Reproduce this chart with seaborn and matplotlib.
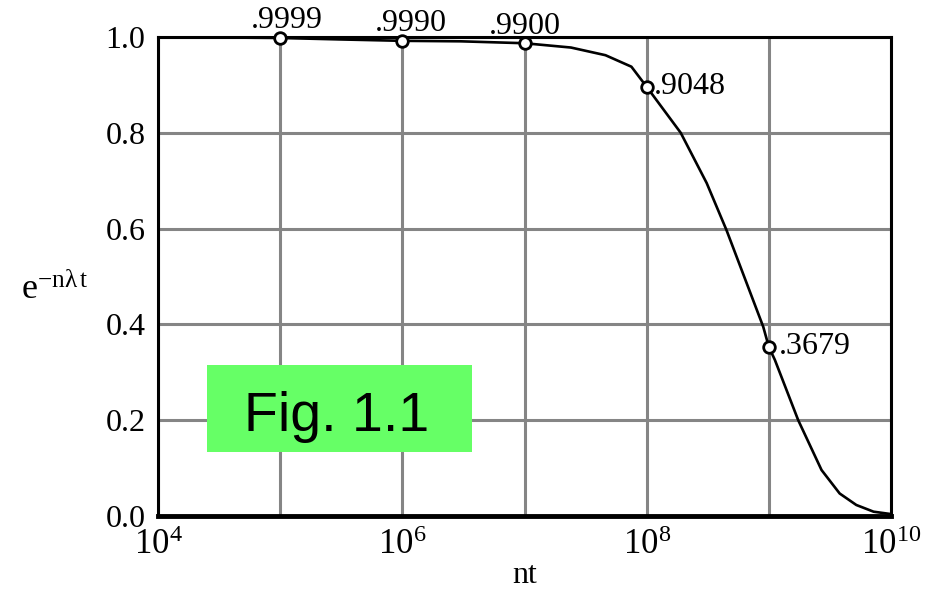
import seaborn as sns
import pandas as pd
import matplotlib.pyplot as plt
from matplotlib.patches import Rectangle

# curve
nt = [1e4, 1e5, 3e5, 1e6, 3e6, 1e7, 2.4e7, 4.6e7, 7.5e7, 1e8, 1.9e8, 3.1e8, 4.5e8,
      9e8, 1e9, 1.12e9, 1.74e9, 2.7e9, 3.8e9, 5.2e9, 7.2e9, 1e10]
reliab = [1.0, 0.998, 0.995, 0.992, 0.991, 0.987, 0.978, 0.962, 0.938, 0.896, 0.80, 0.695, 0.597,
          0.395, 0.353, 0.326, 0.20, 0.096, 0.047, 0.023, 0.009, 0.004]

# labelled points
mark_nt = [1e5, 1e6, 1e7, 1e8, 1e9]
mark_val = [0.998, 0.992, 0.987, 0.896, 0.353]
mark_txt = ['.9999', '.9990', '.9900', '.9048', '.3679']

y_ticks = [0.0, 0.2, 0.4, 0.6, 0.8, 1.0]
x_ticks = [1e4, 1e5, 1e6, 1e7, 1e8, 1e9, 1e10]
x_labels = [r'$\mathregular{10^{4}}$', '', r'$\mathregular{10^{6}}$', '',
            r'$\mathregular{10^{8}}$', '', r'$\mathregular{10^{10}}$']

sns.set_theme(style='white')
plt.rcParams['font.family'] = ['Liberation Serif', 'DejaVu Serif']
plt.rcParams['mathtext.fontset'] = 'custom'
plt.rcParams['mathtext.rm'] = 'Liberation Serif'
plt.rcParams['mathtext.it'] = 'Liberation Serif:italic'
for k in ['text.color', 'axes.labelcolor', 'xtick.color', 'ytick.color']:
    plt.rcParams[k] = 'black'

fig = plt.figure(figsize=(9.41, 5.89), dpi=100)
ax = fig.add_axes([158 / 941, 1 - 516 / 589, 733 / 941, 479 / 589])

df = pd.DataFrame({'nt': nt, 'r': reliab})
sns.lineplot(data=df, x='nt', y='r', ax=ax, color='black', lw=1.9, zorder=3)
dm = pd.DataFrame({'nt': mark_nt, 'r': mark_val})
sns.scatterplot(data=dm, x='nt', y='r', ax=ax, s=70, color='white', edgecolor='black',
                linewidth=2.0, zorder=4, clip_on=False)

ax.set_xscale('log')
ax.set_xlim(1e4, 1e10)
ax.set_ylim(0, 1)
ax.set_xticks(x_ticks)
ax.set_xticklabels(x_labels, fontsize=25)
ax.minorticks_off()
ax.set_yticks(y_ticks)
ax.set_yticklabels([f'{v:.1f}' for v in y_ticks], fontsize=23)
ax.tick_params(axis='both', length=0)
ax.tick_params(axis='y', pad=9)
ax.tick_params(axis='x', pad=9)
ax.grid(True, color='#858585', lw=2.2, ls='-')
ax.set_axisbelow(True)
for s in ax.spines.values():
    s.set_color('black')
    s.set_linewidth(2.2)
ax.spines['bottom'].set_linewidth(3.5)

ax.set_xlabel('nt', fontsize=23, va='baseline')
ax.xaxis.set_label_coords(0.5, (516 - 583) / 479)
ax.set_ylabel(r'$\mathregular{e^{-n\lambda\,t}}$', fontsize=26, rotation=0, ha='left', va='baseline')
ax.yaxis.set_label_coords((21 - 158) / 733, (516 - 299) / 479)

offs = [(5, 7), (6, 7), (0, 7), (5, 0), (7, 0)]
for x, y, t, o in zip(mark_nt, mark_val, mark_txt, offs):
    if o[1] > 0:
        ax.annotate(t, (x, y), xytext=o, textcoords='offset points', ha='center',
                    va='baseline', fontsize=23, annotation_clip=False)
    else:
        ax.annotate(t, (x, y), xytext=o, textcoords='offset points', ha='left',
                    va='center', fontsize=23)

fig.add_artist(Rectangle((207 / 941, 1 - 452 / 589), 265 / 941, 87 / 589,
                         transform=fig.transFigure, facecolor='#66ff66', edgecolor='none', zorder=5))
fig.text(336.5 / 941, 1 - 431 / 589, 'Fig. 1.1', ha='center', va='baseline', fontsize=40,
         family=['Liberation Sans', 'DejaVu Sans'], zorder=6)

fig.savefig('out.png', dpi=100)
